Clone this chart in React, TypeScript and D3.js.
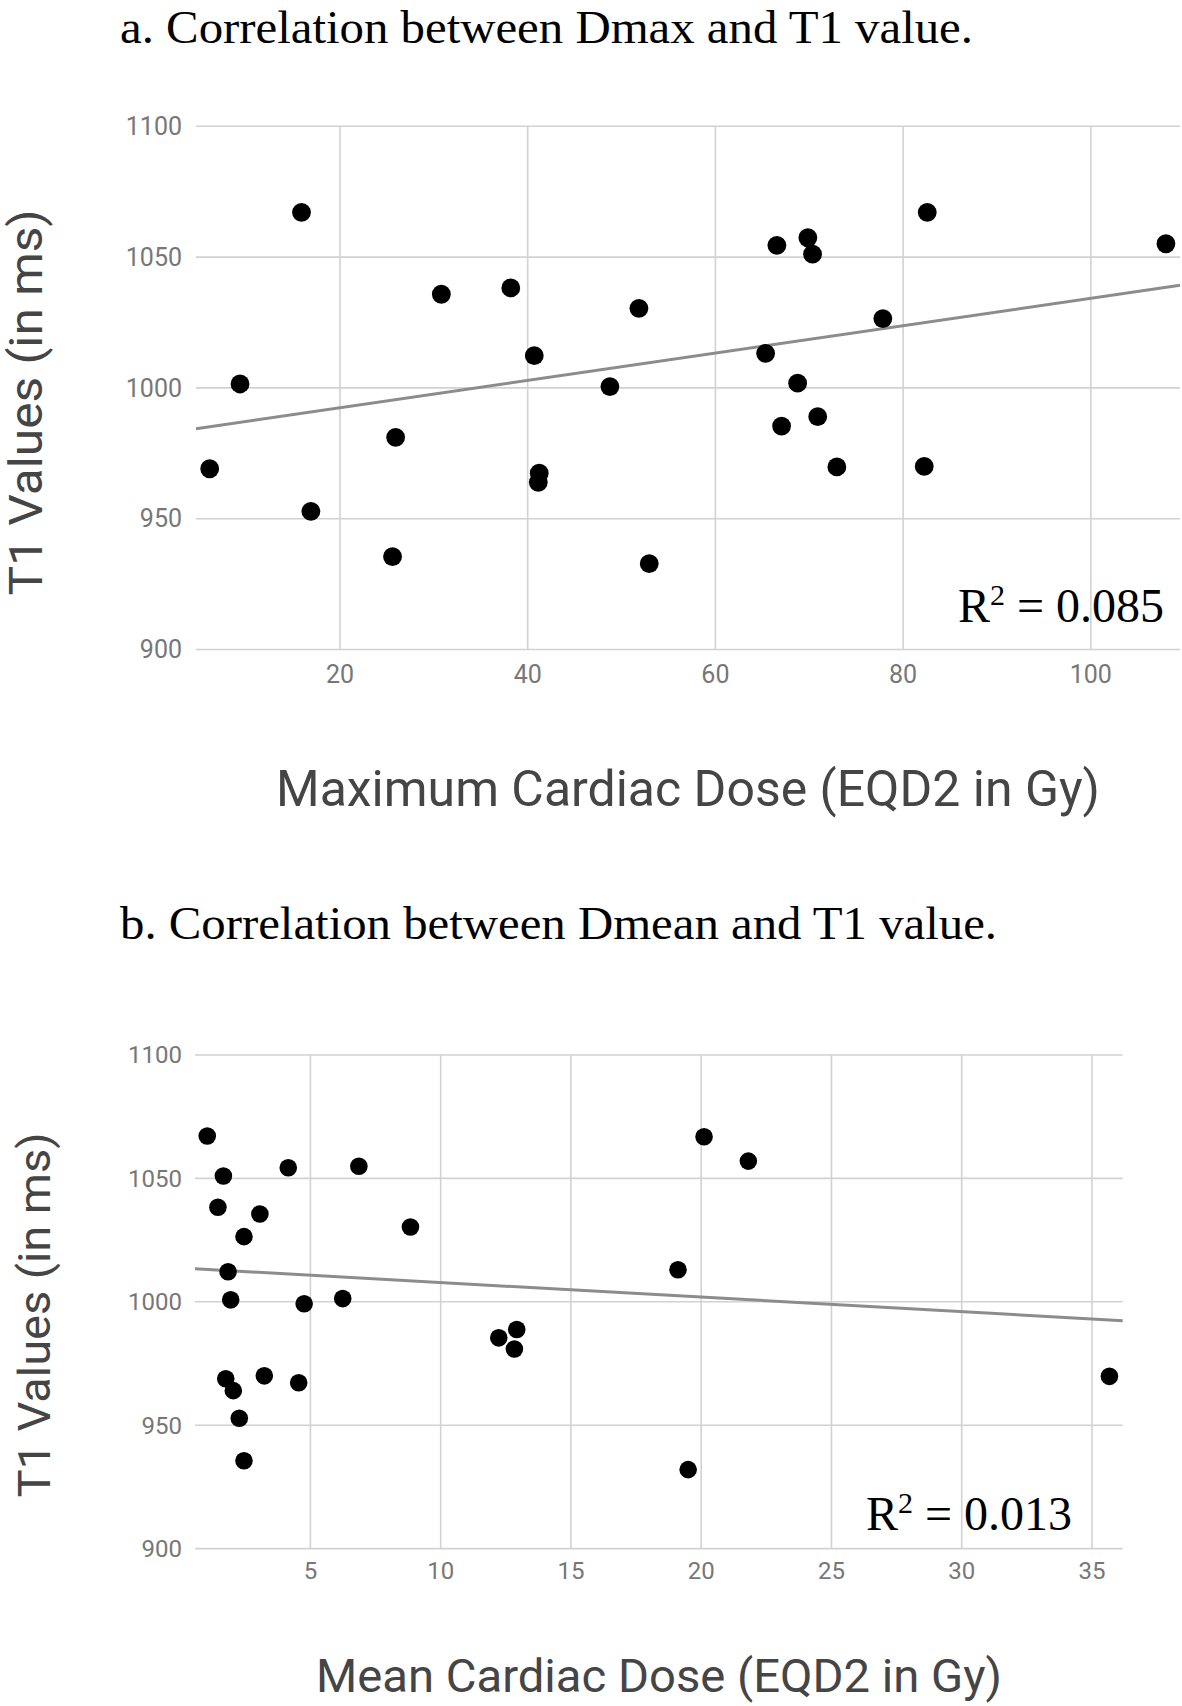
import React from 'react';
import * as d3 from 'd3';

// Panel a: maximum cardiac dose (EQD2, Gy) vs T1 (ms)
const dmaxDose = [15.9, 30.8, 38.2, 40.7, 9.35, 51.85, 66.55, 69.85, 70.35, 82.57, 77.84, 65.35, 48.76, 68.76, 25.93, 6.12, 16.9, 25.6, 41.23, 41.13, 67.05, 70.9, 72.94, 82.25, 52.95, 108.0];
const dmaxT1 = [1067.1, 1035.8, 1038.2, 1012.3, 1001.5, 1030.4, 1054.5, 1057.4, 1051.1, 1067.1, 1026.5, 1013.2, 1000.5, 1001.8, 981.1, 969.1, 952.8, 935.5, 967.4, 963.9, 985.4, 989.0, 969.8, 970.0, 932.8, 1055.1];

// Panel b: mean cardiac dose (EQD2, Gy) vs T1 (ms)
const dmeanDose = [1.04, 1.66, 4.15, 6.86, 1.45, 3.06, 2.45, 8.84, 20.11, 21.81, 1.84, 1.94, 4.76, 6.24, 12.23, 12.92, 12.83, 1.75, 2.04, 3.23, 4.55, 2.27, 2.45, 19.11, 19.5, 35.67];
const dmeanT1 = [1067.2, 1051.0, 1054.3, 1054.9, 1038.3, 1035.6, 1026.4, 1030.3, 1066.9, 1057.0, 1012.2, 1000.8, 999.2, 1001.3, 985.4, 988.8, 980.9, 968.8, 964.0, 970.0, 967.2, 952.8, 935.6, 1013.0, 932.0, 969.8];

const yTicks = [900, 950, 1000, 1050, 1100];
const dmaxTicks = [20, 40, 60, 80, 100];
const dmeanTicks = [5, 10, 15, 20, 25, 30, 35];

// trend lines as drawn in the figure: [slope, intercept]
const dmaxTrend = [0.523, 981.96];
const dmeanTrend = [-0.59, 1013.7];

const dmaxR2 = '0.085';
const dmeanR2 = '0.013';

const SANS = 'Roboto, "Noto Sans", sans-serif';
const SERIF = '"Liberation Serif", "DejaVu Serif", serif';

type PanelProps = {
  xs: number[];
  ys: number[];
  xTicks: number[];
  xDomain: [number, number];
  xRange: [number, number];
  yRange: [number, number];
  trend: number[];
  r2: string;
  r2Pos: [number, number];
  dotR: number;
  tickSize: number;
  tickLabelY: number;
  xTitle: string;
  xTitlePos: [number, number, number, number]; // cx, baseline, size, length
  yTitlePos: [number, number, number, number];
  title: string;
  titlePos: [number, number, number];
};

function Panel(p: PanelProps) {
  const x = d3.scaleLinear().domain(p.xDomain).range(p.xRange);
  const y = d3.scaleLinear().domain([900, 1100]).range(p.yRange);
  const [x0, x1] = p.xDomain;
  const line = d3
    .line<number>()
    .x((d) => x(d))
    .y((d) => y(p.trend[0] * d + p.trend[1]));

  return (
    <g>
      <text
        x={p.titlePos[0]}
        y={p.titlePos[1]}
        fontFamily={SERIF}
        fontSize={46}
        fill="#000"
        textLength={p.titlePos[2]}
        lengthAdjust="spacingAndGlyphs"
      >
        {p.title}
      </text>

      {/* grid */}
      {yTicks.map((t) => (
        <line key={'h' + t} x1={p.xRange[0]} x2={p.xRange[1]} y1={y(t)} y2={y(t)} stroke="#d2d2d2" strokeWidth={1.6} />
      ))}
      {p.xTicks.map((t) => (
        <line key={'v' + t} x1={x(t)} x2={x(t)} y1={y(1100)} y2={y(900)} stroke="#d2d2d2" strokeWidth={1.6} />
      ))}

      {/* tick labels */}
      {yTicks.map((t) => (
        <text key={'yl' + t} x={182} y={y(t)} dy="0.35em" textAnchor="end" fontFamily={SANS} fontSize={p.tickSize} fill="#777">
          {t}
        </text>
      ))}
      {p.xTicks.map((t) => (
        <text key={'xl' + t} x={x(t)} y={p.tickLabelY} dy="0.35em" textAnchor="middle" fontFamily={SANS} fontSize={p.tickSize} fill="#777">
          {t}
        </text>
      ))}

      {/* trend line */}
      <path d={line([x0, x1]) || ''} fill="none" stroke="#8c8c8c" strokeWidth={3} />

      {/* points */}
      {p.xs.map((v, i) => (
        <circle key={i} cx={x(v)} cy={y(p.ys[i])} r={p.dotR} fill="#000" />
      ))}

      {/* axis titles */}
      <text
        x={p.xTitlePos[0]}
        y={p.xTitlePos[1]}
        textAnchor="middle"
        fontFamily={SANS}
        fontSize={p.xTitlePos[2]}
        fill="#454545"
        textLength={p.xTitlePos[3]}
        lengthAdjust="spacingAndGlyphs"
      >
        {p.xTitle}
      </text>
      <text
        transform={`translate(${p.yTitlePos[0]},${p.yTitlePos[1]}) rotate(-90)`}
        textAnchor="middle"
        fontFamily={SANS}
        fontSize={p.yTitlePos[2]}
        fill="#454545"
        textLength={p.yTitlePos[3]}
        lengthAdjust="spacingAndGlyphs"
      >
        T1 Values (in ms)
      </text>

      {/* R squared */}
      <text x={p.r2Pos[0]} y={p.r2Pos[1]} fontFamily={SERIF} fontSize={48} fill="#000">
        R
        <tspan fontSize={30} dy={-17}>2</tspan>
        <tspan dy={17}>{' = ' + p.r2}</tspan>
      </text>
    </g>
  );
}

export default function App() {
  return (
    <svg
      width={1182}
      height={1706}
      viewBox="0 0 1182 1706"
      style={{ position: 'absolute', left: 0, top: 0, background: '#fff' }}
    >
      <rect width={1182} height={1706} fill="#fff" />
      <Panel
        xs={dmaxDose}
        ys={dmaxT1}
        xTicks={dmaxTicks}
        xDomain={[4.66, 109.5]}
        xRange={[196, 1180]}
        yRange={[649.5, 126.3]}
        trend={dmaxTrend}
        r2={dmaxR2}
        r2Pos={[958, 622]}
        dotR={9.4}
        tickSize={25}
        tickLabelY={674}
        xTitle="Maximum Cardiac Dose (EQD2 in Gy)"
        xTitlePos={[688, 806, 50, 824]}
        yTitlePos={[42, 402.5, 46, 386]}
        title="a. Correlation between Dmax and T1 value."
        titlePos={[120, 43, 853]}
      />
      <Panel
        xs={dmeanDose}
        ys={dmeanT1}
        xTicks={dmeanTicks}
        xDomain={[0.57, 36.18]}
        xRange={[195, 1122.7]}
        yRange={[1548.6, 1055]}
        trend={dmeanTrend}
        r2={dmeanR2}
        r2Pos={[866, 1530]}
        dotR={8.8}
        tickSize={24}
        tickLabelY={1571}
        xTitle="Mean Cardiac Dose (EQD2 in Gy)"
        xTitlePos={[659, 1692, 47, 686]}
        yTitlePos={[50, 1315, 44, 365]}
        title="b. Correlation between Dmean and T1 value."
        titlePos={[120, 939, 877]}
      />
    </svg>
  );
}
